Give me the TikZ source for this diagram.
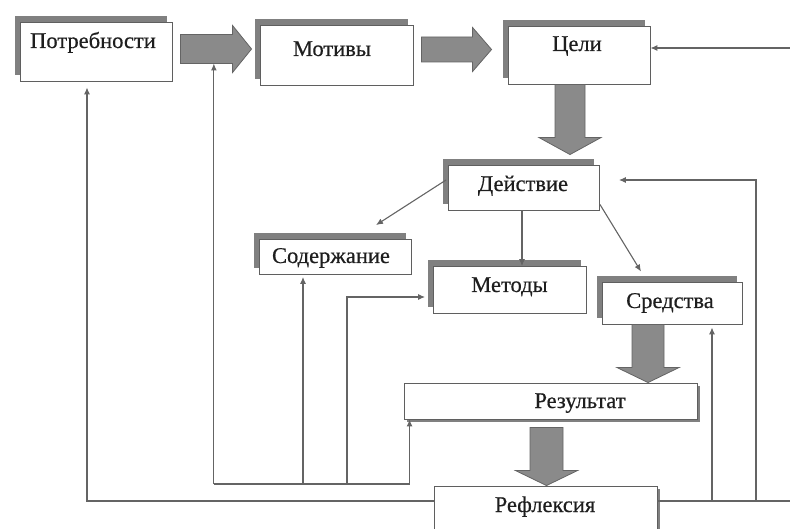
\documentclass[tikz,border=0pt]{standalone}
\usepackage{fontspec}
\setmainfont{Liberation Serif}
\newfontfamily\lblfont{Liberation Serif}[FakeBold=0.5]
\usetikzlibrary{arrows.meta,shadows,calc}
\definecolor{shadowgray}{RGB}{128,128,128}
\definecolor{boxline}{RGB}{95,95,95}
\definecolor{connline}{RGB}{100,100,100}
\definecolor{blockfill}{RGB}{138,138,138}
\definecolor{blockline}{RGB}{100,100,100}
\definecolor{txt}{RGB}{30,30,30}
\tikzset{
 boxul/.style={draw=boxline, line width=0.9pt, fill=white, inner sep=0pt,
   drop shadow={shadow xshift=-5.5pt, shadow yshift=6pt, fill=shadowgray, opacity=1}},
 boxbr/.style={draw=boxline, line width=0.9pt, fill=white, inner sep=0pt,
   drop shadow={shadow xshift=2.5pt, shadow yshift=-2.5pt, fill=shadowgray, opacity=1}},
 lbl/.style={anchor=base, inner sep=0pt, text=txt, font=\lblfont\fontsize{22.5}{27}\selectfont},
 conn/.style={draw=connline, line width=1.1pt},
 arr/.style={-{Latex[length=7pt,width=6pt]}},
 blockarrow/.style={fill=blockfill, draw=blockline, line width=0.8pt, line join=miter},
}
\newcommand\rblock[5]{\path[blockarrow] let \p1=(#1), \p2=(#2) in
  (\x1,\y1+#3) -- (\x2-#5,\y1+#3) -- (\x2-#5,\y1+#4) -- (\x2,\y1) --
  (\x2-#5,\y1-#4) -- (\x2-#5,\y1-#3) -- (\x1,\y1-#3) -- cycle;}
\newcommand\dblock[5]{\path[blockarrow] let \p1=(#1), \p2=(#2) in
  (\x1-#3,\y1) -- (\x1-#3,\y2+#5) -- (\x1-#4,\y2+#5) -- (\x1,\y2) --
  (\x1+#4,\y2+#5) -- (\x1+#3,\y2+#5) -- (\x1+#3,\y1) -- cycle;}
\begin{document}
\begin{tikzpicture}[x=1pt,y=-1pt]
\useasboundingbox (0,0) rectangle (790,529);
\clip (0,0) rectangle (790,529);
% boxes
\node[boxul, minimum width=152pt, minimum height=59pt] (potr) at (96,51.5) {};
\node[boxul, minimum width=153pt, minimum height=60pt] (motiv) at (336.5,55) {};
\node[boxul, minimum width=142pt, minimum height=58pt] (celi) at (579,55) {};
\node[boxul, minimum width=151pt, minimum height=45pt] (deys) at (524,187.5) {};
\node[boxul, minimum width=152pt, minimum height=35pt] (sod) at (335,257) {};
\node[boxul, minimum width=153pt, minimum height=47pt] (met) at (510,290) {};
\node[boxul, minimum width=140pt, minimum height=42pt] (sred) at (672,303) {};
\node[boxbr, minimum width=293pt, minimum height=36pt] (rez) at (550.5,401) {};
\node[boxbr, minimum width=223pt, minimum height=60pt] (refl) at (545.5,516) {};
% labels
\node[lbl] (tpotr) at (93,48) {Потребности};
\node[lbl] (tmotiv) at (332,56) {Мотивы};
\node[lbl] (tceli) at (577,51) {Цели};
\node[lbl] (tdeys) at (523,191) {Действие};
\node[lbl] (tsod) at (331,263) {Содержание};
\node[lbl] (tmet) at (509.5,292) {Методы};
\node[lbl] (tsred) at (670,308) {Средства};
\node[lbl] (trez) at (580,408) {Результат};
\node[lbl] (trefl) at (545,512) {Рефлексия};
% block arrows
\coordinate (a1s) at ($(potr.east)+(8,-2.5)$);
\coordinate (a1e) at ($(motiv.west)+(-8,-6)$);
\coordinate (a2s) at ($(motiv.east)+(8,-5.5)$);
\coordinate (a2e) at ($(celi.west)+(-16,-5.5)$);
\coordinate (a3s) at ($(celi.south)+(-9,0)$);
\coordinate (a3e) at ($(deys.north)+(46,-10)$);
\coordinate (a4s) at ($(sred.south)+(-24,0)$);
\coordinate (a4e) at ($(rez.north)+(97.5,0)$);
\coordinate (a5s) at ($(rez.south)+(-4,8)$);
\coordinate (a5e) at ($(refl.north)+(1,0)$);
\rblock{a1s}{a1e}{14.5pt}{23.5pt}{19pt}
\rblock{a2s}{a2e}{12.5pt}{22pt}{19pt}
\dblock{a3s}{a3e}{15pt}{31pt}{17pt}
\dblock{a4s}{a4e}{16pt}{31pt}{15pt}
\dblock{a5s}{a5e}{16.5pt}{31pt}{15pt}
% thin connectors
\coordinate (inR) at (790,48);
\draw[conn,arr] (inR) -- (inR -| celi.east);
\coordinate (ry) at (0,501);
\coordinate (rE) at (790,501);
\draw[conn,arr] (ry -| refl.west) -| ([xshift=-9pt,yshift=-6pt]potr.south);
\draw[conn] (ry -| refl.east) -- (rE);
\coordinate (c712) at ([xshift=40pt]sred.south);
\draw[conn,arr] (c712 |- ry) -- ([yshift=-3pt]c712);
\coordinate (c756) at (756,501);
\coordinate (dy) at ([xshift=19pt,yshift=7.5pt]deys.east);
\draw[conn,arr] (c756) |- (dy);
\coordinate (iy) at (0,484);
\coordinate (a1b) at ($(a1s)!0.47!(a1e)+(0,14.5)$);
\draw[conn,arr] (a1b |- iy) -- (a1b);
\draw[conn,arr] (a1b |- iy) -| ([xshift=6pt]rez.south west);
\coordinate (sodx) at ([xshift=-32pt]sod.south);
\draw[conn,arr] (sodx |- iy) -- ([yshift=-2pt]sodx);
\coordinate (metin) at ([xshift=-8pt,yshift=-7pt]met.west);
\coordinate (c347) at (347,484);
\draw[conn,arr] (c347) |- (metin);
\draw[conn,arr] ([xshift=-2pt,yshift=7.5pt]deys.west) -- ([xshift=41pt,yshift=14pt]sod.north);
\draw[conn,arr] ([xshift=-2pt]deys.south) -- ([xshift=-2pt]deys.south |- met.north);
\draw[conn,arr] ([yshift=6pt]deys.south east) -- ([xshift=-31pt,yshift=10pt]sred.north);
\end{tikzpicture}
\end{document}
